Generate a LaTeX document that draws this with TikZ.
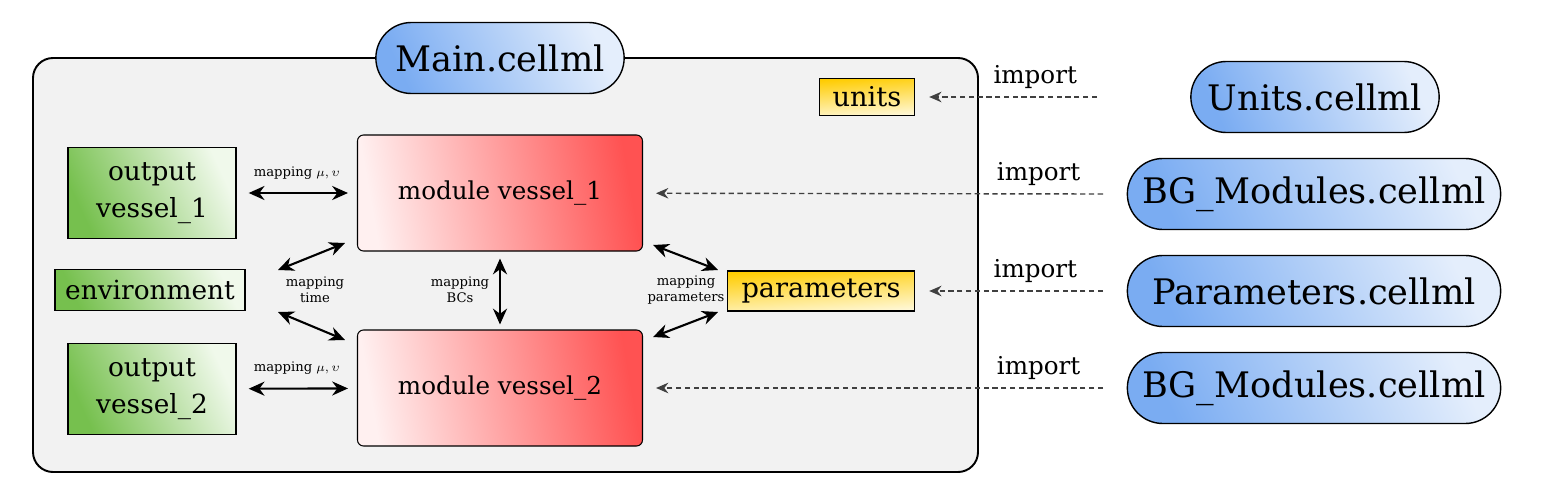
\documentclass[tikz,border=0pt]{standalone}
\usepackage{fontspec}
\setmainfont{DejaVu Serif}
\usetikzlibrary{arrows.meta,shapes.misc}

\definecolor{pillblue}{RGB}{122,172,242}
\definecolor{pilllight}{RGB}{228,238,252}
\definecolor{modred}{RGB}{255,82,82}
\definecolor{modlight}{RGB}{255,240,240}
\definecolor{outgreen}{RGB}{118,192,78}
\definecolor{outlight}{RGB}{240,249,235}
\definecolor{paryellow}{RGB}{255,204,0}
\definecolor{parlight}{RGB}{255,248,215}

\begin{document}
\begin{tikzpicture}[
  file/.style={draw, line width=0.8pt, rounded rectangle, minimum height=1.42cm,
    font=\fontsize{20}{23}\selectfont, left color=pillblue, right color=pilllight, shading angle=115},
  module/.style={draw, line width=0.6pt, rounded corners=0.12cm, minimum width=5.7cm, minimum height=2.32cm,
    font=\fontsize{14}{17}\selectfont, left color=modlight, right color=modred, shading angle=100},
  output/.style={draw, line width=0.8pt, align=center, font=\fontsize{15}{21}\selectfont,
    left color=outgreen, right color=outlight, shading angle=115},
  param/.style={draw, line width=0.8pt, font=\fontsize{15.5}{18}\selectfont,
    top color=paryellow, bottom color=parlight, shading angle=4},
  maplabel/.style={font=\fontsize{7.5}{9}\selectfont, align=center},
  maparrow/.style={line width=1.2pt, {Stealth[length=9pt,width=8pt]}-{Stealth[length=9pt,width=8pt]}},
  importarrow/.style={dash pattern=on 3pt off 2pt, line width=0.8pt, black!75,
    -{Stealth[length=7pt,width=6pt]}, shorten >=0.28cm},
  importlabel/.style={font=\fontsize{14}{16}\selectfont, text=black, above=1pt}
]
  \useasboundingbox (0,0) rectangle (30.98,9.98);
  \draw[line width=1.1pt, fill=black!5, rounded corners=0.4cm] (0.66,0.54) rectangle (19.56,8.82);

  \node[file, minimum width=5.2cm] (main) at (10.00,8.82) {Main.cellml};
  \node[file, minimum width=5.2cm] (unitsfile) at (26.30,8.04) {Units.cellml};
  \node[file, minimum width=7.7cm] (bg1) at (26.28,6.10) {BG\_Modules.cellml};
  \node[file, minimum width=7.7cm] (parfile) at (26.28,4.16) {Parameters.cellml};
  \node[file, minimum width=7.7cm] (bg2) at (26.28,2.22) {BG\_Modules.cellml};

  \node[module] (mod1) at (10.00,6.12) {module vessel\_1};
  \node[module] (mod2) at (10.00,2.22) {module vessel\_2};

  \node[output, minimum width=3.36cm, minimum height=1.82cm] (out1) at (3.04,6.12) {output\\vessel\_1};
  \node[output, minimum width=3.80cm, minimum height=0.82cm, inner xsep=1pt] (env) at (3.00,4.18) {environment};
  \node[output, minimum width=3.36cm, minimum height=1.82cm] (out2) at (3.04,2.20) {output\\vessel\_2};

  \node[param, minimum width=1.90cm, minimum height=0.74cm] (units) at (17.34,8.04) {units};
  \node[param, minimum width=3.74cm, minimum height=0.80cm] (params) at (16.42,4.16) {parameters};

  \node[maplabel] (maptime) at (6.30,4.18) {mapping\\time};
  \node[maplabel] (mapbcs) at (9.20,4.18) {mapping\\BCs};
  \node[maplabel] (mappar) at (13.72,4.18) {mapping\\parameters};

  \coordinate (in1) at (21.94,8.04);
  \coordinate (in2) at (22.06,6.10);
  \coordinate (in3) at (22.06,4.16);
  \coordinate (in4) at (22.06,2.22);
  \coordinate (t1) at (6.90,5.12);
  \coordinate (t2) at (5.56,4.58);
  \coordinate (t3) at (5.56,3.74);
  \coordinate (t4) at (6.90,3.18);
  \coordinate (p1) at (13.06,5.08);
  \coordinate (p2) at (14.36,4.58);
  \coordinate (p3) at (14.36,3.74);
  \coordinate (p4) at (13.06,3.24);

  % Draw the imports
  \draw[importarrow] (in1) -- (units) node[importlabel, pos=0.34] {import};
  \draw[importarrow, shorten >=0.26cm] (in2) -- (mod1) node[importlabel, pos=0.14] {import};
  \draw[importarrow] (in3) -- (params) node[importlabel, pos=0.36] {import};
  \draw[importarrow, shorten >=0.26cm] (in4) -- (mod2) node[importlabel, pos=0.14] {import};

  % Draw the mappings
  \draw[maparrow, shorten <=0.24cm, shorten >=0.18cm] (out1) -- (mod1)
    node[maplabel, midway, above=4pt] {mapping $\mu,\upsilon$};
  \draw[maparrow, shorten <=0.24cm, shorten >=0.18cm] (out2) -- (mod2)
    node[maplabel, midway, above=4pt] {mapping $\mu,\upsilon$};
  \draw[maparrow] (t1) -- (t2);
  \draw[maparrow] (t3) -- (t4);
  \draw[maparrow, shorten <=0.14cm, shorten >=0.1cm] (mod1.south) -- (mod2.north);
  \draw[maparrow] (p1) -- (p2);
  \draw[maparrow] (p3) -- (p4);
\end{tikzpicture}
\end{document}
